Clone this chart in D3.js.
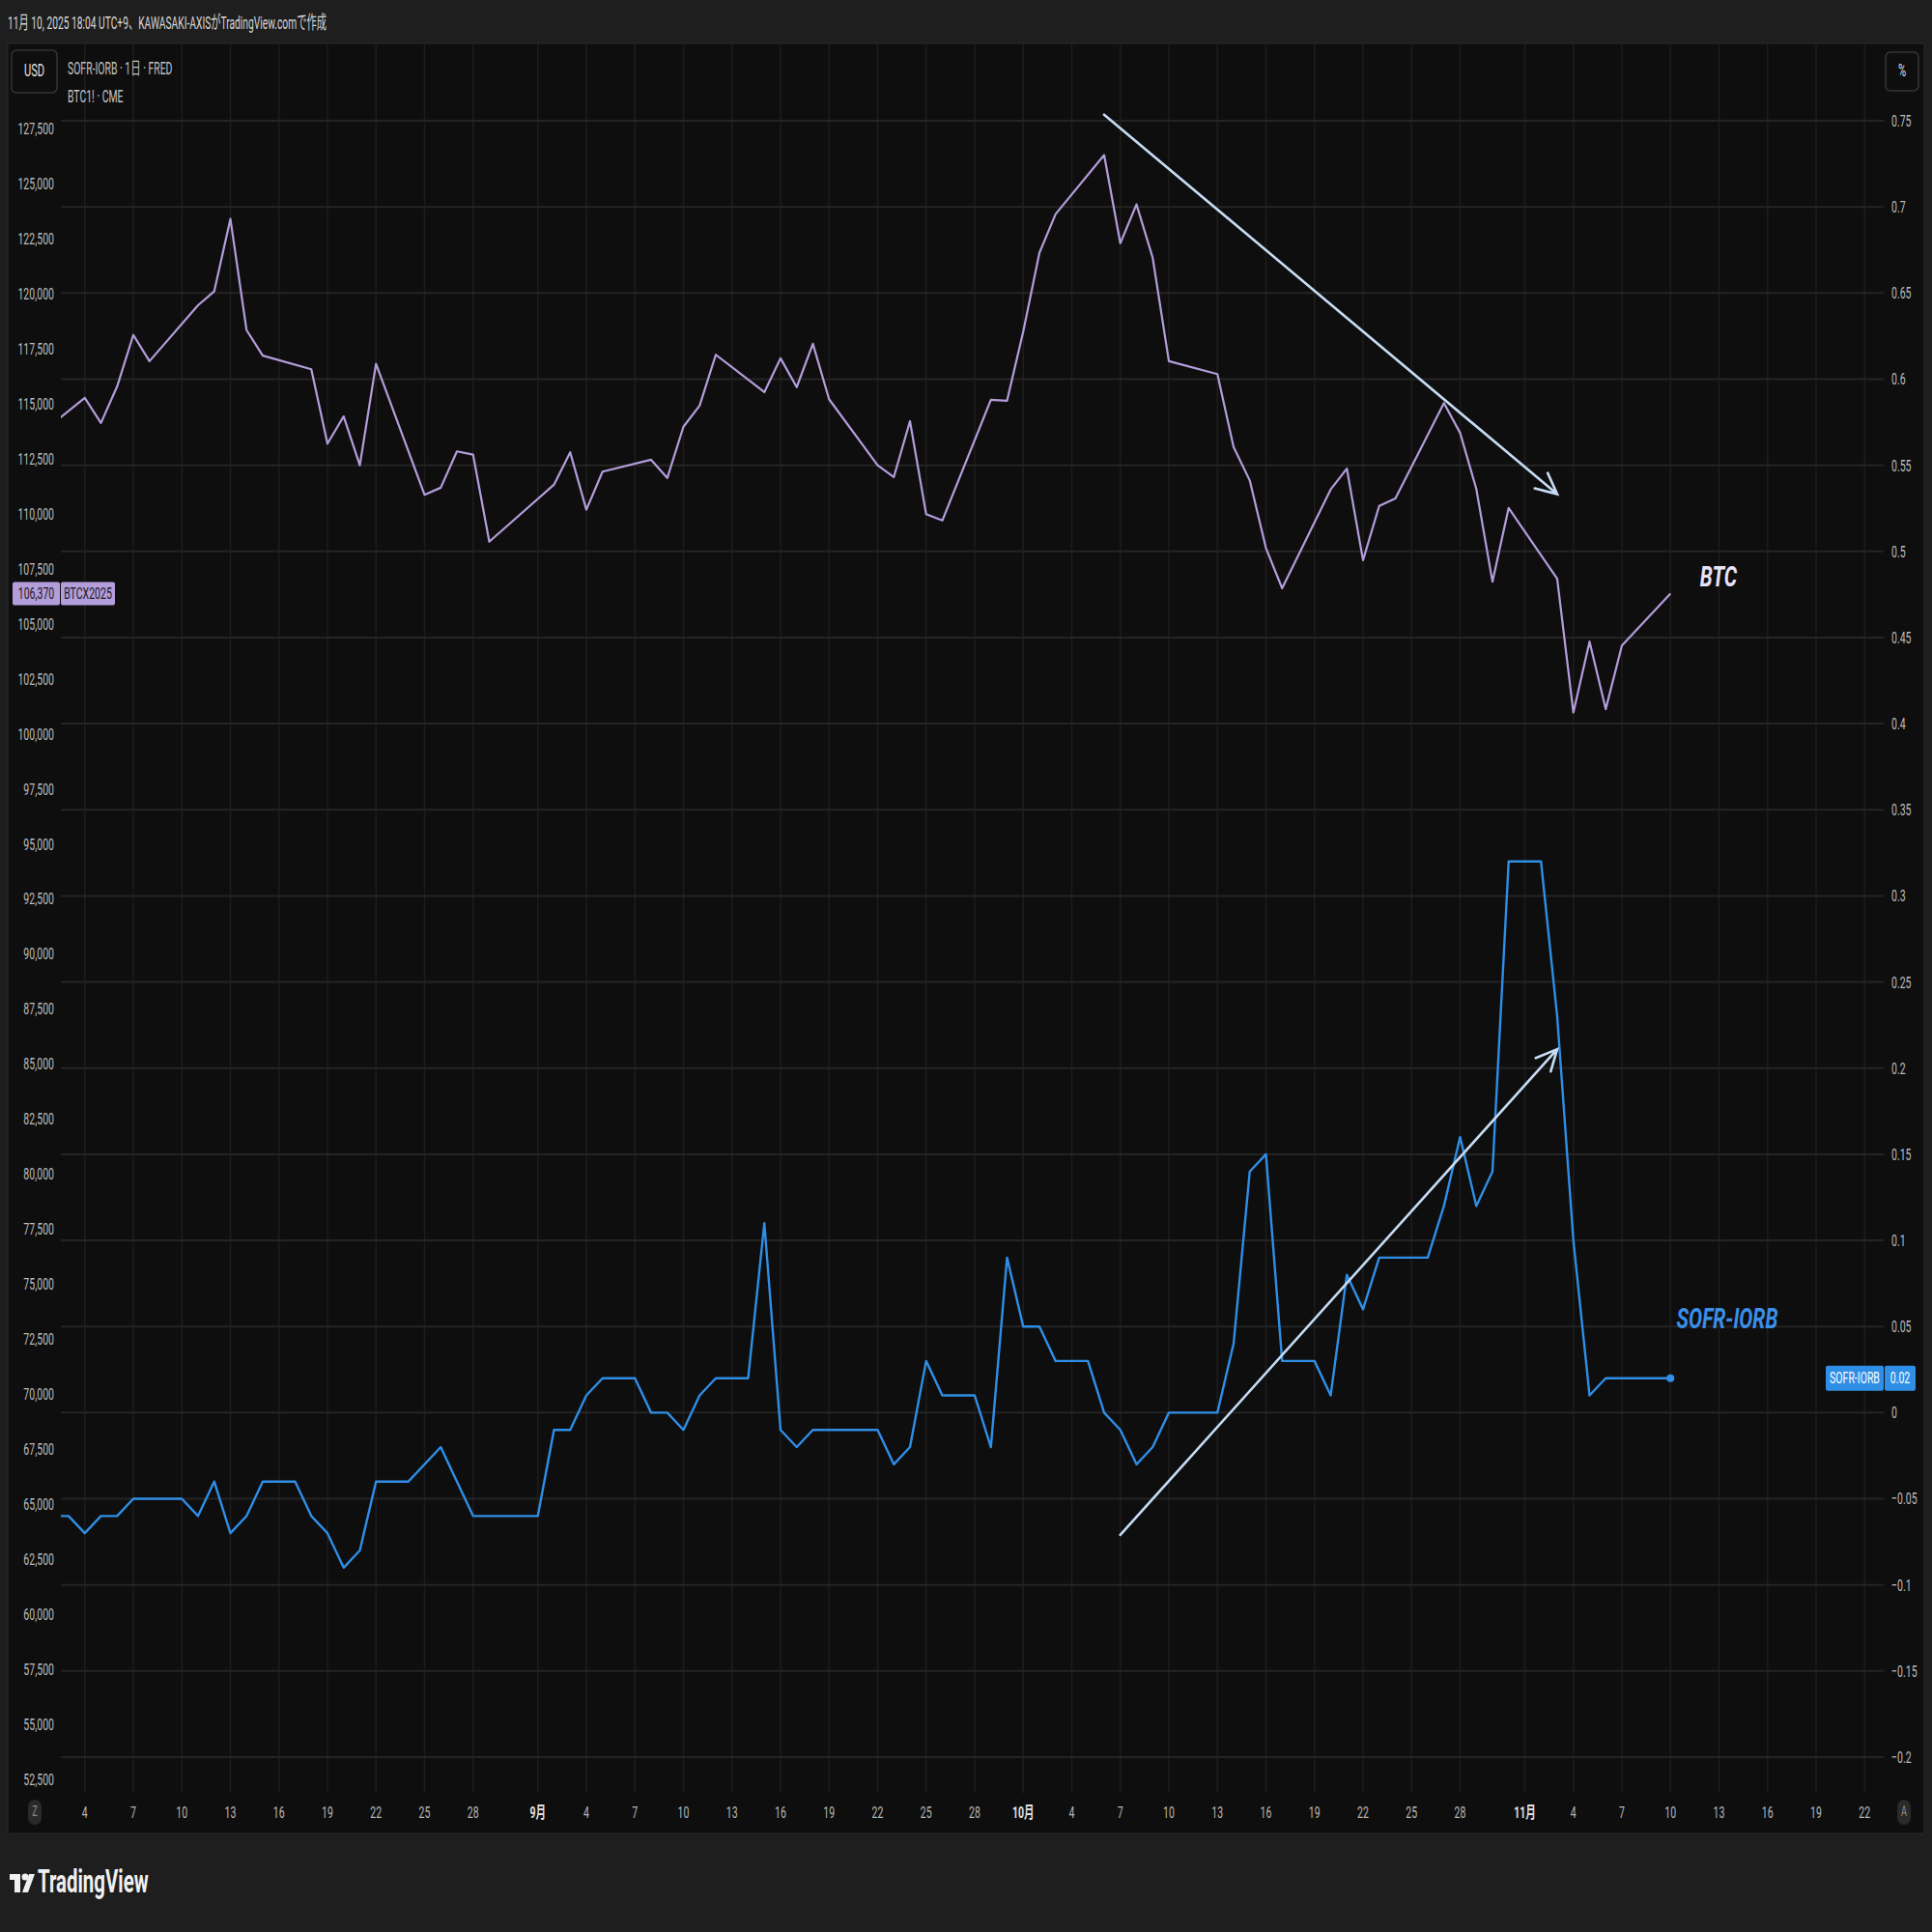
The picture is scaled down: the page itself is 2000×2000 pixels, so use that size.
<!DOCTYPE html>
<html><head><meta charset="utf-8">
<script src="https://cdn.jsdelivr.net/npm/d3@7"></script>
<style>html,body{margin:0;padding:0;background:#1e1e1e;}svg{display:block;}</style>
</head><body>
<script>
// ---------- DATA ----------
const btcDates = ["2025-08-01","2025-08-04","2025-08-05","2025-08-06","2025-08-07","2025-08-08","2025-08-11","2025-08-12","2025-08-13","2025-08-14","2025-08-15","2025-08-18","2025-08-19","2025-08-20","2025-08-21","2025-08-22","2025-08-25","2025-08-26","2025-08-27","2025-08-28","2025-08-29","2025-09-02","2025-09-03","2025-09-04","2025-09-05","2025-09-08","2025-09-09","2025-09-10","2025-09-11","2025-09-12","2025-09-15","2025-09-16","2025-09-17","2025-09-18","2025-09-19","2025-09-22","2025-09-23","2025-09-24","2025-09-25","2025-09-26","2025-09-29","2025-09-30","2025-10-01","2025-10-02","2025-10-03","2025-10-06","2025-10-07","2025-10-08","2025-10-09","2025-10-10","2025-10-13","2025-10-14","2025-10-15","2025-10-16","2025-10-17","2025-10-20","2025-10-21","2025-10-22","2025-10-23","2025-10-24","2025-10-27","2025-10-28","2025-10-29","2025-10-30","2025-10-31","2025-11-03","2025-11-04","2025-11-05","2025-11-06","2025-11-07","2025-11-10"];
const btcValues = [113480,115260,114120,115780,118120,116930,119470,120100,123390,118340,117180,116560,113180,114420,112200,116810,110860,111180,112830,112680,108730,111320,112790,110180,111910,112450,111620,113950,114910,117220,115520,117060,115750,117720,115200,112200,111660,114200,109980,109690,115170,115130,118270,121850,123610,126290,122290,124050,121630,116930,116340,113030,111510,108440,106610,111100,112050,107890,110350,110690,115030,113670,111130,106910,110260,107040,100970,104190,101120,104010,106370];

const sofrDates = ["2025-08-01","2025-08-03","2025-08-04","2025-08-05","2025-08-06","2025-08-07","2025-08-10","2025-08-11","2025-08-12","2025-08-13","2025-08-14","2025-08-15","2025-08-17","2025-08-18","2025-08-19","2025-08-20","2025-08-21","2025-08-22","2025-08-24","2025-08-26","2025-08-28","2025-09-01","2025-09-02","2025-09-03","2025-09-04","2025-09-05","2025-09-07","2025-09-08","2025-09-09","2025-09-10","2025-09-11","2025-09-12","2025-09-14","2025-09-15","2025-09-16","2025-09-17","2025-09-18","2025-09-22","2025-09-23","2025-09-24","2025-09-25","2025-09-26","2025-09-28","2025-09-29","2025-09-30","2025-10-01","2025-10-02","2025-10-03","2025-10-05","2025-10-06","2025-10-07","2025-10-08","2025-10-09","2025-10-10","2025-10-13","2025-10-14","2025-10-15","2025-10-16","2025-10-17","2025-10-19","2025-10-20","2025-10-21","2025-10-22","2025-10-23","2025-10-26","2025-10-27","2025-10-28","2025-10-29","2025-10-30","2025-10-31","2025-11-02","2025-11-03","2025-11-04","2025-11-05","2025-11-06","2025-11-10"];
const sofrValues = [-0.06,-0.06,-0.07,-0.06,-0.06,-0.05,-0.05,-0.06,-0.04,-0.07,-0.06,-0.04,-0.04,-0.06,-0.07,-0.09,-0.08,-0.04,-0.04,-0.02,-0.06,-0.06,-0.01,-0.01,0.01,0.02,0.02,0.00,0.00,-0.01,0.01,0.02,0.02,0.11,-0.01,-0.02,-0.01,-0.01,-0.03,-0.02,0.03,0.01,0.01,-0.02,0.09,0.05,0.05,0.03,0.03,0.00,-0.01,-0.03,-0.02,0.00,0.00,0.04,0.14,0.15,0.03,0.03,0.01,0.08,0.06,0.09,0.09,0.12,0.16,0.12,0.14,0.32,0.32,0.23,0.10,0.01,0.02,0.02];

const leftTicks = d3.range(52500, 127501, 2500);
const rightTicks = [0.75,0.7,0.65,0.6,0.55,0.5,0.45,0.4,0.35,0.3,0.25,0.2,0.15,0.1,0.05,0,-0.05,-0.1,-0.15,-0.2];
const xTickDates = ["2025-08-04","2025-08-07","2025-08-10","2025-08-13","2025-08-16","2025-08-19","2025-08-22","2025-08-25","2025-08-28","2025-09-01","2025-09-04","2025-09-07","2025-09-10","2025-09-13","2025-09-16","2025-09-19","2025-09-22","2025-09-25","2025-09-28","2025-10-01","2025-10-04","2025-10-07","2025-10-10","2025-10-13","2025-10-16","2025-10-19","2025-10-22","2025-10-25","2025-10-28","2025-11-01","2025-11-04","2025-11-07","2025-11-10","2025-11-13","2025-11-16","2025-11-19","2025-11-22"];
const monthNames = {8:"9月",9:"10月",10:"11月"};
const btcArrow = [["2025-10-06",128130],["2025-11-03",110890]];
const sofrArrow = [["2025-10-07",-0.071],["2025-11-03",0.211]];

const headerText = "11月 10, 2025 18:04 UTC+9、KAWASAKI-AXISがTradingView.comで作成";
const legend1 = "SOFR-IORB · 1日 · FRED";
const legend2 = "BTC1! · CME";

// ---------- SETUP ----------
const W = 2000, H = 2000, SX = 0.62;
const FONT = "Roboto, 'Noto Sans CJK JP', sans-serif";
const pd = d3.utcParse("%Y-%m-%d");
const svg = d3.select("body").append("svg").attr("width", W).attr("height", H);
svg.append("rect").attr("width", W).attr("height", H).attr("fill", "#1e1e1e");
svg.append("rect").attr("x", 8).attr("y", 45).attr("width", 1984).attr("height", 1853).attr("fill", "#0e0e0e").attr("stroke", "#2a2a2a");

const x = d3.scaleUtc().domain([pd("2025-08-01"), pd("2025-11-22")]).range([37.5, 37.5 + 113 * 16.75]);
const yL = d3.scaleLinear().domain([52500, 127500]).range([1842, 133]);
const yR = d3.scaleLinear().domain([-0.2, 0.75]).range([1819, 125]);
const PL = 63, PR = 1950, PT = 46, PB = 1856;

function txt(g, px, py, s, o) {
  o = o || {};
  return g.append("text").attr("transform", `translate(${px},${py}) scale(${o.sx || SX},1)`)
    .attr("text-anchor", o.anchor || "start").attr("font-family", FONT)
    .attr("font-size", o.size || 17).attr("fill", o.fill || "#c8c8c8")
    .attr("font-weight", o.weight || "normal").attr("font-style", o.style || "normal")
    .attr("dominant-baseline", o.base || "middle").text(s);
}

// ---------- GRID ----------
const grid = svg.append("g");
grid.selectAll(".vg").data(xTickDates).join("line")
  .attr("x1", d => x(pd(d))).attr("x2", d => x(pd(d))).attr("y1", PT).attr("y2", PB)
  .attr("stroke", "#1d1d1d").attr("stroke-width", 1.5);
grid.selectAll(".hg").data(rightTicks).join("line")
  .attr("x1", PL).attr("x2", PR).attr("y1", d => yR(d)).attr("y2", d => yR(d))
  .attr("stroke", "#242424").attr("stroke-width", 2);

// ---------- AXES ----------
const axL = svg.append("g").attr("transform", "translate(56,0)")
  .call(d3.axisLeft(yL).tickValues(leftTicks).tickFormat(d3.format(",")).tickSize(0).tickPadding(0));
axL.select(".domain").remove();
axL.selectAll("text").attr("x", 0).attr("font-family", FONT).attr("font-size", 17).attr("fill", "#bdbdbd")
  .attr("transform", `scale(${SX},1)`);

const fmtR = v => v === 0 ? "0" : (v < 0 ? "−" : "") + String(Math.abs(v));
const axR = svg.append("g").attr("transform", "translate(1958,0)")
  .call(d3.axisRight(yR).tickValues(rightTicks).tickFormat(fmtR).tickSize(0).tickPadding(0));
axR.select(".domain").remove();
axR.selectAll("text").attr("x", 0).attr("font-family", FONT).attr("font-size", 17).attr("fill", "#bdbdbd")
  .attr("transform", `scale(${SX},1)`);

const fmtX = d => d.getUTCDate() === 1 ? monthNames[d.getUTCMonth()] : String(d.getUTCDate());
const axB = svg.append("g").attr("transform", "translate(0,1876)")
  .call(d3.axisBottom(x).tickValues(xTickDates.map(pd)).tickFormat(fmtX).tickSize(0).tickPadding(0));
axB.select(".domain").remove();
axB.selectAll("text").attr("y", 0).attr("dy", "0.35em").attr("font-family", FONT).attr("font-size", 17)
  .attr("fill", d => d.getUTCDate() === 1 ? "#e0e0e0" : "#b8b8b8")
  .attr("font-weight", d => d.getUTCDate() === 1 ? "bold" : "normal")
  .attr("transform", `scale(${SX},1)`);
axB.selectAll(".tick").each(function(d){ d3.select(this).attr("transform", `translate(${x(d)},0)`); });

[[36, "Z"], [1971, "A"]].forEach(([bx, s]) => {
  svg.append("rect").attr("x", bx - 7).attr("y", 1863).attr("width", 14).attr("height", 26).attr("rx", 7).attr("fill", "#2a2a2a");
  txt(svg, bx, 1876, s, { size: 15, fill: "#8a8a8a", anchor: "middle" });
});

// ---------- LINES ----------
svg.append("clipPath").attr("id", "clip").append("rect").attr("x", PL).attr("y", PT).attr("width", PR - PL).attr("height", PB - PT);
const plot = svg.append("g").attr("clip-path", "url(#clip)");

const btc = btcDates.map((d, i) => [pd(d), btcValues[i]]);
const sofr = sofrDates.map((d, i) => [pd(d), sofrValues[i]]);

plot.append("path").datum(btc).attr("fill", "none").attr("stroke", "#b39ddb").attr("stroke-width", 2.2)
  .attr("stroke-linejoin", "round").attr("d", d3.line().x(d => x(d[0])).y(d => yL(d[1])));
plot.append("path").datum(sofr).attr("fill", "none").attr("stroke", "#2f8ee6").attr("stroke-width", 2.4)
  .attr("stroke-linejoin", "round").attr("d", d3.line().x(d => x(d[0])).y(d => yR(d[1])));
const last = sofr[sofr.length - 1];
plot.append("circle").attr("cx", x(last[0])).attr("cy", yR(last[1])).attr("r", 4).attr("fill", "#2f8ee6");

// ---------- ARROWS ----------
function arrow(pts, ys) {
  const x1 = x(pd(pts[0][0])), y1 = ys(pts[0][1]), x2 = x(pd(pts[1][0])), y2 = ys(pts[1][1]);
  const ang = Math.atan2(y2 - y1, x2 - x1), L = 24, a = 0.45;
  const p = `M${x1},${y1}L${x2},${y2}M${x2 - L * Math.cos(ang - a)},${y2 - L * Math.sin(ang - a)}L${x2},${y2}L${x2 - L * Math.cos(ang + a)},${y2 - L * Math.sin(ang + a)}`;
  svg.append("path").attr("d", p).attr("fill", "none").attr("stroke", "#c6dcf4").attr("stroke-width", 2.6).attr("stroke-linecap", "round");
}
arrow(btcArrow, yL);
arrow(sofrArrow, yR);

// ---------- LABELS ----------
txt(svg, 1779, 599, "BTC", { size: 30, weight: "bold", style: "italic", fill: "#e8e2f6", anchor: "middle", sx: 0.7 });
txt(svg, 1788, 1367, "SOFR-IORB", { size: 30, weight: "bold", style: "italic", fill: "#3a8fe8", anchor: "middle", sx: 0.7 });

txt(svg, 8, 25, headerText, { size: 19, fill: "#d6d6d6", sx: 0.54 });
svg.append("rect").attr("x", 12).attr("y", 52).attr("width", 47).attr("height", 44).attr("rx", 5).attr("fill", "none").attr("stroke", "#353535").attr("stroke-width", 1.5);
txt(svg, 35.5, 74, "USD", { size: 18, fill: "#e0e0e0", anchor: "middle" });
svg.append("rect").attr("x", 1952).attr("y", 54).attr("width", 34).attr("height", 40).attr("rx", 5).attr("fill", "none").attr("stroke", "#353535").attr("stroke-width", 1.5);
txt(svg, 1969, 74, "%", { size: 18, fill: "#e0e0e0", anchor: "middle" });
txt(svg, 70, 72, legend1, { size: 18, fill: "#c4c4c4", sx: 0.58 });
txt(svg, 70, 101, legend2, { size: 18, fill: "#c4c4c4", sx: 0.58 });

const by = yL(btcValues[btcValues.length - 1]);
svg.append("rect").attr("x", 13).attr("y", by - 12).attr("width", 49).attr("height", 24).attr("rx", 2).attr("fill", "#b39ddb");
svg.append("rect").attr("x", 63).attr("y", by - 12).attr("width", 56).attr("height", 24).attr("rx", 2).attr("fill", "#b39ddb");
txt(svg, 37.5, by + 1, d3.format(",")(btcValues[btcValues.length - 1]), { size: 17, fill: "#1a1a1a", anchor: "middle" });
txt(svg, 91, by + 1, "BTCX2025", { size: 17, fill: "#1a1a1a", anchor: "middle" });

const sy = yR(last[1]);
svg.append("rect").attr("x", 1890).attr("y", sy - 13).attr("width", 60).attr("height", 26).attr("rx", 2).attr("fill", "#2f8ee6");
svg.append("rect").attr("x", 1951).attr("y", sy - 13).attr("width", 32).attr("height", 26).attr("rx", 2).attr("fill", "#2f8ee6");
txt(svg, 1920, sy + 1, "SOFR-IORB", { size: 17, fill: "#ffffff", anchor: "middle" });
txt(svg, 1967, sy + 1, last[1].toFixed(2), { size: 17, fill: "#ffffff", anchor: "middle" });

// logo
const lg = svg.append("g").attr("fill", "#f0f0f0");
lg.append("rect").attr("x", 10).attr("y", 1940).attr("width", 11).attr("height", 6);
lg.append("rect").attr("x", 15).attr("y", 1940).attr("width", 6).attr("height", 19);
lg.append("circle").attr("cx", 26).attr("cy", 1943).attr("r", 3.5);
lg.append("path").attr("d", "M30,1940L36,1940L29,1959L23,1959Z");
txt(svg, 39, 1950, "TradingView", { size: 34, weight: "bold", fill: "#f0f0f0", sx: 0.6 });
</script>
</body></html>
